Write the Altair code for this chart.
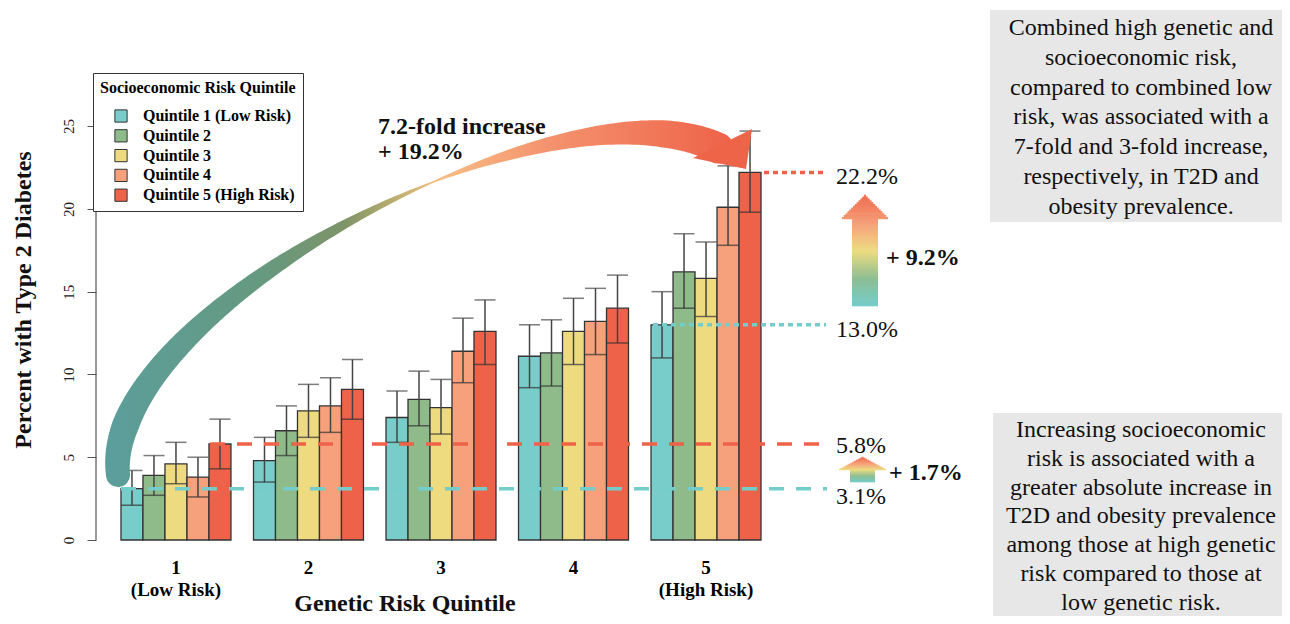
import altair as alt
import pandas as pd
import numpy as np

SERIF = "Liberation Serif"

genetic = ["1", "2", "3", "4", "5"]
socio = ["Quintile 1 (Low Risk)", "Quintile 2", "Quintile 3", "Quintile 4", "Quintile 5 (High Risk)"]
colors = ["#78CDCB", "#8FBB8B", "#EEDB80", "#F7A07C", "#EE624A"]

# percent with T2D, rows = genetic quintile, cols = socioeconomic quintile
pct = [
    [3.1, 3.9, 4.6, 3.8, 5.8],
    [4.8, 6.6, 7.8, 8.1, 9.1],
    [7.4, 8.5, 8.0, 11.4, 12.6],
    [11.1, 11.3, 12.6, 13.2, 14.0],
    [13.0, 16.2, 15.8, 20.1, 22.2],
]
lower = [
    [2.1, 2.7, 3.4, 2.6, 4.3],
    [3.5, 5.1, 6.2, 6.5, 7.3],
    [5.9, 6.9, 6.4, 9.5, 10.6],
    [9.2, 9.3, 10.6, 11.2, 11.9],
    [11.0, 14.0, 13.5, 17.8, 19.8],
]
upper = [
    [4.2, 5.1, 5.9, 5.0, 7.3],
    [6.2, 8.1, 9.4, 9.8, 10.9],
    [9.0, 10.2, 9.7, 13.4, 14.5],
    [13.0, 13.3, 14.6, 15.2, 16.0],
    [15.0, 18.5, 18.0, 22.6, 24.7],
]
y_ticks = [0, 5, 10, 15, 20, 25]

ref_values = [22.2, 13.0, 5.8, 3.1]
ref_labels = ["22.2%", "13.0%", "5.8%", "3.1%"]

box1_lines = ["Combined high genetic and", "socioeconomic risk,", "compared to combined low",
              "risk, was associated with a", "7-fold and 3-fold increase,",
              "respectively, in T2D and", "obesity prevalence."]
box2_lines = ["Increasing socioeconomic", "risk is associated with a",
              "greater absolute increase in", "T2D and obesity prevalence",
              "among those at high genetic", "risk compared to those at",
              "low genetic risk."]

rows = []
for gi, g in enumerate(genetic):
    for si, s in enumerate(socio):
        rows.append(dict(g=g, s=s, v=pct[gi][si], lo=lower[gi][si], hi=upper[gi][si]))
df = pd.DataFrame(rows)

# ---------------- layout (screen pixels) ----------------
PL, PT, W, H = 96, 93, 690, 447
YMAX = 27

xband = alt.Scale(domain=genetic, paddingInner=0.17, paddingOuter=0.1885)
xoff = alt.Scale(domain=socio, paddingInner=0, paddingOuter=0)
ydat = alt.Scale(domain=[0, YMAX], nice=False, zero=True)
xs = alt.Scale(domain=[PL, PL + W], nice=False, zero=False)
ys = alt.Scale(domain=[PT + H, PT], nice=False, zero=False)

label_expr = ("datum.value == '1' ? ['1', '(Low Risk)'] : "
              "datum.value == '5' ? ['5', '(High Risk)'] : datum.value")

X = alt.X("g:N", scale=xband, sort=genetic,
          axis=alt.Axis(title=None, labelExpr=label_expr, domain=False, ticks=False,
                        labelAngle=0, labelFont=SERIF, labelFontSize=19,
                        labelFontWeight="bold", labelPadding=18, labelLineHeight=22,
                        labelColor="black"))
XO = alt.XOffset("s:N", scale=xoff, sort=socio)

legend = alt.Legend(orient="none", legendX=-3, legendY=-20,
                    title="Socioeconomic Risk Quintile", titleFont=SERIF,
                    titleFontSize=16, titleFontWeight="bold", titleColor="black",
                    titleLimit=400, titlePadding=12, labelFont=SERIF, labelFontSize=16,
                    labelFontWeight="bold", labelColor="black", labelLimit=400,
                    symbolType="square", symbolSize=150, symbolStrokeColor="#333",
                    symbolStrokeWidth=1, symbolOffset=13, labelOffset=14,
                    rowPadding=1.8, padding=7, fillColor="white", strokeColor="#333")

bars = alt.Chart(df).mark_bar(stroke="#333", strokeWidth=1.3).encode(
    x=X, xOffset=XO,
    y=alt.Y("v:Q", scale=ydat,
            axis=alt.Axis(values=y_ticks, title=None, domain=False, tickSize=9,
                          tickColor="#555", labelAngle=270, labelFont=SERIF,
                          labelFontSize=15, labelPadding=11, grid=False,
                          labelColor="#222")),
    color=alt.Color("s:N", scale=alt.Scale(domain=socio, range=colors), legend=legend),
)
whisk = alt.Chart(df).mark_rule(color="#444", strokeWidth=1.5).encode(
    x=X, xOffset=XO, y="lo:Q", y2="hi:Q")
cap_hi = alt.Chart(df).mark_tick(color="#444", thickness=1.5, size=21).encode(
    x=X, xOffset=XO, y="hi:Q")
cap_lo = alt.Chart(df).mark_tick(color="#333", thickness=1.5, size=22).encode(
    x=X, xOffset=XO, y="lo:Q")
yline = alt.Chart(pd.DataFrame({"a": [0]})).mark_rule(color="#555", strokeWidth=1.2).encode(
    x=alt.value(0), y=alt.datum(0), y2=alt.datum(25))

main = alt.layer(bars, whisk, cap_hi, cap_lo, yline)

# ---------------- annotations ----------------
def XS(f="x"):
    return alt.X(f"{f}:Q", scale=xs, axis=None)

def YS(f="y"):
    return alt.Y(f"{f}:Q", scale=ys, axis=None)

CYAN = "#74CDCB"
RED = "#EE6248"

dash_df = pd.DataFrame({
    "x": [121, 210, 764, 653],
    "x2": [827, 827, 826, 826],
    "v": [3.1, 5.8, 22.2, 13.0],
    "c": [CYAN, RED, RED, CYAN],
    "kind": ["dash", "dash", "dot", "dot"],
})
dash_layers = []
for kind, pattern in [("dash", [15, 12]), ("dot", [5, 4])]:
    for col in [CYAN, RED]:
        sub = dash_df[(dash_df.kind == kind) & (dash_df.c == col)]
        dash_layers.append(
            alt.Chart(sub).mark_rule(color=col, strokeWidth=3.5, strokeDash=pattern).encode(
                x=XS(), x2="x2:Q", y=alt.Y("v:Q", scale=ydat, axis=None)))

pct_layers = []
for v, lab, dy in zip(ref_values, ref_labels, [5, 5, 2, 8]):
    pct_layers.append(
        alt.Chart(pd.DataFrame({"x": [836], "v": [v], "t": [lab]})).mark_text(
            align="left", baseline="middle", font=SERIF, fontSize=24, color="#111", dy=dy
        ).encode(x=XS(), y=alt.Y("v:Q", scale=ydat, axis=None), text="t:N"))

# gradient up-arrows: stacked thin horizontal slices coloured along a gradient
ARROW_STOPS = [(0.0, (0x74, 0xCC, 0xCC)), (0.25, (0x8D, 0xBE, 0x92)),
               (0.5, (0xED, 0xDC, 0x80)), (0.72, (0xF6, 0xA5, 0x7D)),
               (1.0, (0xEF, 0x6A, 0x4F))]

def grad_color(f):
    for (o0, c0), (o1, c1) in zip(ARROW_STOPS[:-1], ARROW_STOPS[1:]):
        if f <= o1:
            k = (f - o0) / (o1 - o0) if o1 > o0 else 0
            return "#%02x%02x%02x" % tuple(int(round(a + (b - a) * k)) for a, b in zip(c0, c1))
    return "#%02x%02x%02x" % ARROW_STOPS[-1][1]

def up_arrow(cx, bottom, base, tip, shaft_w, head_w, n=60):
    recs = []
    edges = np.linspace(bottom, tip, n + 1)
    for k in range(n):
        y0, y1 = edges[k], edges[k + 1]
        ym = (y0 + y1) / 2
        if ym >= base:
            half = shaft_w / 2
        else:
            half = head_w / 2 * (ym - tip) / (base - tip)
        f = (bottom - ym) / (bottom - tip)
        recs.append(dict(x=cx - half, x2=cx + half, y=y0 + 0.3, y2=y1 - 0.3, c=grad_color(f)))
    d = pd.DataFrame(recs)
    return alt.Chart(d).mark_rect().encode(
        x=XS(), x2="x2:Q", y=YS(), y2="y2:Q", color=alt.Color("c:N", scale=None))

arrow_big = up_arrow(865, 306, 219, 195, 26, 48)
arrow_small = up_arrow(862.5, 482, 470, 457, 25, 49, n=25)

# curved arrow (decorative path)
P0, P1, P2, P3 = (118, 475), (100, 310), (560, 70), (718, 148)
t = np.linspace(0, 1, 160)
bx = ((1 - t) ** 3 * P0[0] + 3 * (1 - t) ** 2 * t * P1[0]
      + 3 * (1 - t) * t ** 2 * P2[0] + t ** 3 * P3[0])
by = ((1 - t) ** 3 * P0[1] + 3 * (1 - t) ** 2 * t * P1[1]
      + 3 * (1 - t) * t ** 2 * P2[1] + t ** 3 * P3[1])
tk = [0, 0.1, 0.25, 0.4, 0.55, 0.6, 0.7, 0.8, 0.9, 1.0]
wk = [24, 27, 22, 15, 5, 1.5, 11, 19, 27, 31]
bw = np.interp(t, tk, wk)
curve_df = pd.DataFrame({"i": np.arange(len(t)), "x": bx, "y": by, "w": bw})
grad_h = alt.LinearGradient(
    gradient="linear", x1=0, x2=1, y1=0, y2=0,
    stops=[alt.GradientStop(color="#5B9E9C", offset=0),
           alt.GradientStop(color="#66997F", offset=0.25),
           alt.GradientStop(color="#7E9468", offset=0.38),
           alt.GradientStop(color="#C2B070", offset=0.47),
           alt.GradientStop(color="#F7BE84", offset=0.53),
           alt.GradientStop(color="#F4946F", offset=0.7),
           alt.GradientStop(color="#EE6249", offset=1)])
curve = alt.Chart(curve_df).mark_trail(color=grad_h).encode(
    x=XS(), y=YS(), size=alt.Size("w:Q", scale=None, legend=None), order=alt.Order("i:Q"))

# arrow head as convex polygon: A(693,158) C(746,169) B(752,129)
head_df = pd.DataFrame({"x": [693, 746, 752], "y": [158, 131.95, 129], "y2": [158, 169, 129]})
head = alt.Chart(head_df).mark_area(color="#EE6449").encode(x=XS(), y=YS(), y2="y2:Q")

def txt(x, y, s, size, bold=False, align="left", angle=None, color="#111"):
    kw = dict(align=align, baseline="middle", font=SERIF, fontSize=size, color=color,
              fontWeight="bold" if bold else "normal", text=s)
    if angle is not None:
        kw["angle"] = angle
    return alt.Chart(pd.DataFrame({"x": [x], "y": [y]})).mark_text(**kw).encode(x=XS(), y=YS())

texts = [
    txt(378, 127, "7.2-fold increase", 24, bold=True),
    txt(378, 152, "+ 19.2%", 24, bold=True),
    txt(886, 258, "+ 9.2%", 24, bold=True),
    txt(889, 473, "+ 1.7%", 24, bold=True),
    txt(24, 300, "Percent with Type 2 Diabetes", 24, bold=True, align="center", angle=270),
    txt(405, 604, "Genetic Risk Quintile", 24, bold=True, align="center"),
]

box_df = pd.DataFrame({"x": [990, 993], "x2": [1300, 1300], "y": [10, 413], "y2": [222, 640]})
boxes = alt.Chart(box_df).mark_rect(color="#E7E7E7").encode(x=XS(), x2="x2:Q", y=YS(), y2="y2:Q")
box_text1 = alt.Chart(pd.DataFrame({"x": [1141], "y": [28]})).mark_text(
    text=box1_lines, align="center", baseline="middle", font=SERIF, fontSize=24,
    lineHeight=29.8, color="#111").encode(x=XS(), y=YS())
box_text2 = alt.Chart(pd.DataFrame({"x": [1141], "y": [430]})).mark_text(
    text=box2_lines, align="center", baseline="middle", font=SERIF, fontSize=24,
    lineHeight=28.8, color="#111").encode(x=XS(), y=YS())

chart = alt.layer(
    main, *dash_layers, curve, head, arrow_big, arrow_small, *pct_layers, *texts,
    boxes, box_text1, box_text2,
).resolve_scale(x="independent", y="independent").properties(
    width=W, height=H,
    autosize=alt.AutoSizeParams(type="none"),
    padding={"left": PL - 8, "top": PT - 8, "right": 1274 - (PL - 8) - W,
             "bottom": 608 - (PT - 8) - H},
).configure(background="white").configure_view(stroke=None)

chart.save("out.html", embed_options={"renderer": "svg", "actions": False})
